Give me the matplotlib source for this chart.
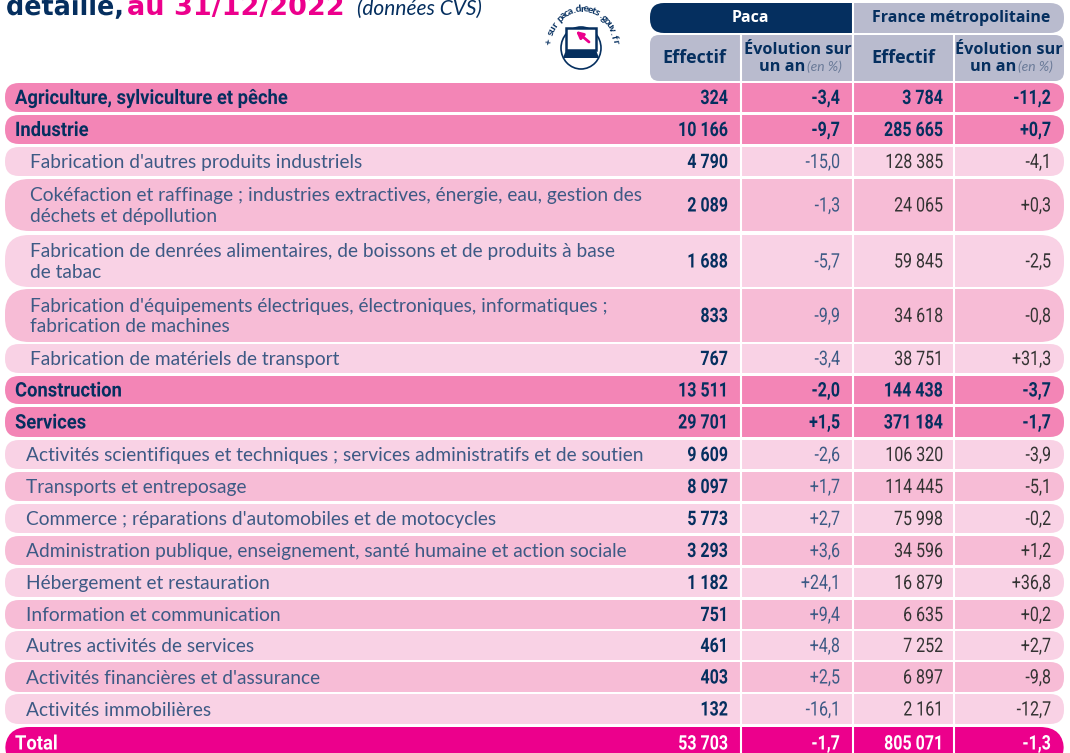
# -*- coding: utf-8 -*-
import numpy as np
import matplotlib
matplotlib.use('Agg')
import matplotlib.pyplot as plt
from matplotlib.patches import FancyBboxPatch, Rectangle, Ellipse, Polygon
from matplotlib.patheffects import AbstractPathEffect
from matplotlib.transforms import Affine2D

# donnees du tableau
secteurs = ["Agriculture, sylviculture et pêche", "Industrie",
            "Fabrication d'autres produits industriels",
            "Cokéfaction et raffinage ; industries extractives, énergie, eau, gestion des\ndéchets et dépollution",
            "Fabrication de denrées alimentaires, de boissons et de produits à base\nde tabac",
            "Fabrication d'équipements électriques, électroniques, informatiques ;\nfabrication de machines",
            "Fabrication de matériels de transport", "Construction", "Services",
            "Activités scientifiques et techniques ; services administratifs et de soutien",
            "Transports et entreposage", "Commerce ; réparations d'automobiles et de motocycles",
            "Administration publique, enseignement, santé humaine et action sociale",
            "Hébergement et restauration", "Information et communication",
            "Autres activités de services", "Activités financières et d'assurance",
            "Activités immobilières", "Total"]
paca_eff = ["324", "10 166", "4 790", "2 089", "1 688", "833", "767", "13 511", "29 701", "9 609",
            "8 097", "5 773", "3 293", "1 182", "751", "461", "403", "132", "53 703"]
paca_evo = ["-3,4", "-9,7", "-15,0", "-1,3", "-5,7", "-9,9", "-3,4", "-2,0", "+1,5", "-2,6",
            "+1,7", "+2,7", "+3,6", "+24,1", "+9,4", "+4,8", "+2,5", "-16,1", "-1,7"]
fr_eff = ["3 784", "285 665", "128 385", "24 065", "59 845", "34 618", "38 751", "144 438", "371 184",
          "106 320", "114 445", "75 998", "34 596", "16 879", "6 635", "7 252", "6 897", "2 161", "805 071"]
fr_evo = ["-11,2", "+0,7", "-4,1", "+0,3", "-2,5", "-0,8", "+31,3", "-3,7", "-1,7", "-3,9",
          "-5,1", "-0,2", "+1,2", "+36,8", "+0,2", "+2,7", "-9,8", "-12,7", "-1,3"]
# M = grand secteur, I = sous-secteur industrie, S = sous-secteur services, T = total
niveaux = list("MMIIIIIMMSSSSSSSSST")

# mise en page (pixels)
haut = [83, 115, 147, 179, 235, 289, 344, 376, 407, 440, 472, 504, 536, 568, 600, 631, 662, 694, 727]
bas = [112, 144, 176, 231, 287, 342, 373, 404, 437, 469, 501, 533, 565, 597, 629, 660, 692, 724, 768]
navy = '#052f5f'
grey = '#b9bbce'
rose = '#f385b6'
light = '#f9d2e5'
mid = '#f7bcd6'
total = '#ec008c'
bleu = '#3d5a85'
noir = '#333333'
police = 'Lato'
chiffres = 'Roboto'
entete = 'Open Sans'

fig = plt.figure(figsize=(10.7, 7.53), dpi=100)
ax = fig.add_axes([0, 0, 1, 1])
ax.set_xlim(0, 1070)
ax.set_ylim(753, 0)
ax.axis('off')


class Serre(AbstractPathEffect):
    # resserre le texte horizontalement autour de x0 (pixels), faute de police etroite
    def __init__(self, x0, s):
        super().__init__()
        self.x0 = x0
        self.s = s

    def draw_path(self, renderer, gc, tpath, affine, rgbFace=None):
        t = affine + Affine2D().translate(-self.x0, 0).scale(self.s, 1).translate(self.x0, 0)
        renderer.draw_path(gc, tpath, t, rgbFace)


def boite(x0, y0, x1, y1, couleur, r):
    ax.add_patch(FancyBboxPatch((x0, y0), x1 - x0, y1 - y0, boxstyle=f"round,pad=0,rounding_size={r}",
                                fc=couleur, ec='none'))


def chiffre(x, y, s, couleur, poids):
    ax.text(x, y, s, fontsize=14.4, fontweight=poids, color=couleur, family=chiffres, ha='right', va='center',
            path_effects=[Serre(x, 0.8)])


# titre coupe en haut
ax.text(6, 15, "détaillé,", fontsize=19.5, fontweight='bold', color=navy, family='DejaVu Sans', va='baseline',
        path_effects=[Serre(6, 0.94)])
ax.text(127, 15, "au 31/12/2022", fontsize=19.5, fontweight='bold', color=total, family='DejaVu Sans',
        va='baseline')
ax.text(357, 15, "(données CVS)", fontsize=15, style='italic', color=navy, family=police, va='baseline')

# logo
cx, cy = 581, 48
ax.add_patch(Ellipse((cx, cy), 40, 42, fc='white', ec=navy, lw=1.2))
ax.add_patch(Rectangle((566, 28), 30, 22, fc='white', ec=navy, lw=1.8))
ax.add_patch(Polygon([(566, 50), (596, 50), (599, 58), (563, 58)], fc=navy, ec='none'))
ax.annotate('', xy=(576, 31), xytext=(589, 42), arrowprops=dict(arrowstyle='-|>', color=total, lw=2, shrinkA=0, shrinkB=0))
texte_logo = "+ sur paca.dreets.gouv.fr"
for c, a in zip(texte_logo, np.linspace(172, 8, len(texte_logo))):
    xc = 582 + 33 * np.cos(np.radians(a))
    yc = 47 - 38 * np.sin(np.radians(a))
    ax.text(xc, yc, c, fontsize=7.5, fontweight='bold', color=navy, family=police,
            rotation=a - 90, ha='center', va='center')

# en-tetes
boite(650, 3, 700, 33, navy, 14)
ax.add_patch(Rectangle((665, 3), 187, 30, fc=navy, ec='none'))
boite(1000, 3, 1064, 33, grey, 14)
ax.add_patch(Rectangle((854, 3), 190, 30, fc=grey, ec='none'))
boite(650, 35, 1064, 81, grey, 9)
ax.text(750, 18, "Paca", fontsize=11.5, fontweight='bold', color='white', family=entete, ha='center', va='center')
ax.text(961, 18, "France métropolitaine", fontsize=11.5, fontweight='bold', color=navy, family=entete,
        ha='center', va='center')
for x in [694.5, 903]:
    ax.text(x, 58, "Effectif", fontsize=13, fontweight='bold', color=navy, family=entete, ha='center', va='center')
for x in [798, 1009]:
    ax.text(x, 49.5, "Évolution sur", fontsize=11.7, fontweight='bold', color=navy, family=entete, ha='center', va='center')
    ax.text(x - 16, 66.5, "un an", fontsize=11.7, fontweight='bold', color=navy, family=entete, ha='center', va='center')
    ax.text(x + 26, 66.5, "(en %)", fontsize=10, style='italic', color='#6a7a98', family=police, ha='center', va='center')

# lignes du tableau
for i, nom in enumerate(secteurs):
    niv = niveaux[i]
    if niv == 'M':
        fond = rose
    elif niv == 'T':
        fond = total
    else:
        fond = mid if i in (3, 5, 10, 12, 14, 16) else light
    r = 14 if bas[i] - haut[i] < 40 else 24
    boite(5, haut[i], 1064, bas[i], fond, r)
    ym = (haut[i] + bas[i]) / 2 + 1
    if niv == 'T':
        ym = 744
    majeur = niv in 'MT'
    txt = 'white' if niv == 'T' else navy
    x_nom = {'M': 15, 'T': 15, 'I': 30, 'S': 26}[niv]
    if majeur:
        ax.text(x_nom, ym, nom, fontsize=14.4, color=txt, family=chiffres, fontweight='bold', va='center',
                path_effects=[Serre(x_nom, 0.92)])
    else:
        ax.text(x_nom, ym, nom, fontsize=13.8, color=bleu, family=police, va='center', linespacing=1.25)
    poids = 'bold' if majeur else 'normal'
    chiffre(728, ym, paca_eff[i], txt, 'bold')
    chiffre(840, ym, paca_evo[i], txt if majeur else bleu, poids)
    chiffre(943, ym, fr_eff[i], txt if majeur else noir, poids)
    chiffre(1051, ym, fr_evo[i], txt if majeur else noir, poids)

# separateurs verticaux blancs
for x in [741, 853, 954]:
    ax.plot([x, x], [35, 753], color='white', lw=1.5)
ax.plot([853, 853], [3, 35], color='white', lw=1.5)

fig.savefig('out.png', dpi=100)
